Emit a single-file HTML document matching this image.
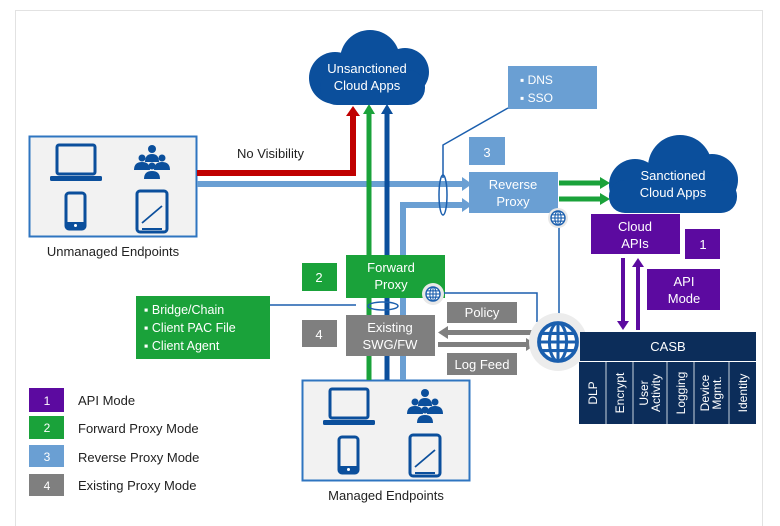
<!DOCTYPE html>
<html><head><meta charset="utf-8"><style>
body{margin:0;background:#fff}
svg{display:block}
text{font-family:"Liberation Sans",Arial,sans-serif}
</style></head><body>
<svg width="780" height="526" viewBox="0 0 780 526" xmlns="http://www.w3.org/2000/svg">
<defs>
<g id="globe"><circle r="10" fill="#fff" stroke="#1b5fae" stroke-width="2"/><ellipse rx="4.5" ry="10" fill="none" stroke="#1b5fae" stroke-width="1.6"/><line x1="0" y1="-10" x2="0" y2="10" stroke="#1b5fae" stroke-width="1.6"/><line x1="-10" y1="0" x2="10" y2="0" stroke="#1b5fae" stroke-width="1.6"/><line x1="-9" y1="-4.5" x2="9" y2="-4.5" stroke="#1b5fae" stroke-width="1.6"/><line x1="-9" y1="4.5" x2="9" y2="4.5" stroke="#1b5fae" stroke-width="1.6"/></g>
<g id="devices">
<rect x="28" y="9" width="38" height="29" rx="2" fill="none" stroke="#0b4f9c" stroke-width="3"/>
<rect x="21" y="40" width="52" height="5" rx="1.5" fill="#0b4f9c"/>
<g fill="#0b4f9c"><circle cx="123" cy="13" r="4"/><path d="M116 26 q0-8 7-8 q7 0 7 8z"/><circle cx="113" cy="22" r="3.5"/><path d="M105 34 q0-8 8-8 q8 0 8 8z"/><circle cx="133" cy="22" r="3.5"/><path d="M125 34 q0-8 8-8 q8 0 8 8z"/><circle cx="123" cy="30" r="3.5"/><path d="M115 43 q0-8 8-8 q8 0 8 8z"/></g>
<rect x="37" y="57" width="19" height="36" rx="3" fill="none" stroke="#0b4f9c" stroke-width="3"/><rect x="37" y="86" width="19" height="7" fill="#0b4f9c"/><circle cx="46.5" cy="89.5" r="1.5" fill="#fff"/>
<rect x="108" y="55" width="30" height="41" rx="3" fill="none" stroke="#0b4f9c" stroke-width="3"/><line x1="113" y1="87" x2="133" y2="70" stroke="#0b4f9c" stroke-width="1.8"/><line x1="113" y1="93" x2="133" y2="93" stroke="#0b4f9c" stroke-width="2"/>
</g>
</defs>
<rect x="15.5" y="10.5" width="747" height="520" fill="#fff" stroke="#e2e2e2"/>

<!-- Unmanaged -->
<rect x="29.5" y="136.5" width="167" height="100" fill="#f2f2f2" stroke="#2f75c0" stroke-width="2"/>
<use href="#devices" x="29" y="136"/>
<text x="113" y="256" font-size="13" text-anchor="middle" fill="#222">Unmanaged Endpoints</text>

<!-- Managed -->
<rect x="302.5" y="380.5" width="167" height="100" fill="#f2f2f2" stroke="#2f75c0" stroke-width="2"/>
<use href="#devices" x="302" y="380"/>
<text x="386" y="500" font-size="13" text-anchor="middle" fill="#222">Managed Endpoints</text>

<!-- Lines -->
<path d="M197 173 H353 V115" fill="none" stroke="#c00000" stroke-width="6"/>
<polygon points="346,116 360,116 353,106" fill="#c00000"/>
<text x="237" y="158" font-size="13" fill="#222">No Visibility</text>
<path d="M197 184 H462" fill="none" stroke="#6a9fd3" stroke-width="6"/>
<polygon points="462,177 472,184 462,191" fill="#6a9fd3"/>
<path d="M403 380 V205 H462" fill="none" stroke="#6a9fd3" stroke-width="6"/>
<polygon points="462,198 472,205 462,212" fill="#6a9fd3"/>
<path d="M369 380 V113" stroke="#1aa23a" stroke-width="5"/>
<polygon points="363,114 375,114 369,104" fill="#1aa23a"/>
<path d="M387 380 V113" stroke="#0b4f9c" stroke-width="5"/>
<polygon points="381,114 393,114 387,104" fill="#0b4f9c"/>

<!-- Unsanctioned cloud -->
<g fill="#0b4f9c"><circle cx="335" cy="78" r="26"/><circle cx="370" cy="60" r="30"/><circle cx="405" cy="72" r="24"/><rect x="320" y="70" width="105" height="35" rx="17"/></g>
<text x="367" y="73" font-size="13" fill="#fff" text-anchor="middle">Unsanctioned</text>
<text x="367" y="90" font-size="13" fill="#fff" text-anchor="middle">Cloud Apps</text>

<!-- Sanctioned cloud -->
<g fill="#0b4f9c"><circle cx="635" cy="185" r="26"/><circle cx="680" cy="167" r="32"/><circle cx="712" cy="180" r="26"/><rect x="609" y="180" width="128" height="33" rx="16"/></g>
<text x="673" y="180" font-size="13" fill="#fff" text-anchor="middle">Sanctioned</text>
<text x="673" y="197" font-size="13" fill="#fff" text-anchor="middle">Cloud Apps</text>

<!-- DNS box + line -->
<rect x="508" y="66" width="89" height="43" fill="#6a9fd3"/>
<text x="520" y="84" font-size="12" fill="#fff">▪ DNS</text>
<text x="520" y="102" font-size="12" fill="#fff">▪ SSO</text>
<path d="M508 108 L443 145 V178" fill="none" stroke="#1b5fae" stroke-width="1.5"/>
<ellipse cx="443" cy="195" rx="4" ry="20" fill="none" stroke="#1b5fae" stroke-width="1.5"/>

<!-- Reverse proxy -->
<rect x="469" y="137" width="36" height="28" fill="#6a9fd3"/><text x="487" y="157" font-size="13" fill="#fff" text-anchor="middle">3</text>
<rect x="469" y="172" width="89" height="41" fill="#6a9fd3"/>
<text x="513" y="189" font-size="13" fill="#fff" text-anchor="middle">Reverse</text>
<text x="513" y="206" font-size="13" fill="#fff" text-anchor="middle">Proxy</text>
<path d="M559 183 H600 M559 199 H600" stroke="#1aa23a" stroke-width="5"/>
<polygon points="600,177 610,183 600,189" fill="#1aa23a"/><polygon points="600,193 610,199 600,205" fill="#1aa23a"/>
<line x1="559" y1="225" x2="559" y2="320" stroke="#1b5fae" stroke-width="1.5"/>
<circle cx="558" cy="218" r="10" fill="#e8e8e8"/><use href="#globe" transform="translate(558 218) scale(0.7)"/>

<!-- Forward proxy -->
<rect x="302" y="263" width="35" height="28" fill="#1aa23a"/><text x="319" y="282" font-size="13" fill="#fff" text-anchor="middle">2</text>
<rect x="346" y="255" width="99" height="43" fill="#1aa23a"/>
<text x="391" y="272" font-size="13" fill="#fff" text-anchor="middle">Forward</text>
<text x="391" y="289" font-size="13" fill="#fff" text-anchor="middle">Proxy</text>
<path d="M443 293 H537 V322" fill="none" stroke="#1b5fae" stroke-width="1.5"/>
<circle cx="433" cy="294" r="11" fill="#e8e8e8"/><use href="#globe" transform="translate(433 294) scale(0.7)"/>

<!-- Bridge box -->
<rect x="136" y="296" width="134" height="63" fill="#1aa23a"/>
<text x="144" y="314" font-size="12.5" fill="#fff">▪  Bridge/Chain</text>
<text x="144" y="332" font-size="12.5" fill="#fff">▪  Client PAC File</text>
<text x="144" y="350" font-size="12.5" fill="#fff">▪  Client Agent</text>
<line x1="270" y1="305" x2="356" y2="305" stroke="#1b5fae" stroke-width="1.5"/>
<ellipse cx="383" cy="306" rx="15" ry="4" fill="none" stroke="#1b5fae" stroke-width="1.5"/>

<!-- Existing -->
<rect x="302" y="320" width="35" height="27" fill="#7f7f7f"/><text x="319" y="339" font-size="13" fill="#fff" text-anchor="middle">4</text>
<rect x="346" y="315" width="89" height="41" fill="#7f7f7f"/>
<text x="390" y="332" font-size="13" fill="#fff" text-anchor="middle">Existing</text>
<text x="390" y="349" font-size="13" fill="#fff" text-anchor="middle">SWG/FW</text>
<rect x="447" y="302" width="70" height="21" fill="#7f7f7f"/><text x="482" y="317" font-size="13" fill="#fff" text-anchor="middle">Policy</text>
<rect x="447" y="353" width="70" height="22" fill="#7f7f7f"/><text x="482" y="369" font-size="13" fill="#fff" text-anchor="middle">Log Feed</text>
<rect x="447" y="330" width="88" height="5" fill="#7f7f7f"/><polygon points="448,326 438,332.5 448,339" fill="#7f7f7f"/>
<rect x="438" y="342" width="88" height="5" fill="#7f7f7f"/><polygon points="526,338 536,344.5 526,351" fill="#7f7f7f"/>

<!-- Big globe -->
<circle cx="558" cy="342" r="29" fill="#ececec"/>
<use href="#globe" transform="translate(558 342) scale(1.9)"/>

<!-- API -->
<rect x="591" y="214" width="89" height="40" fill="#5c0aa0"/>
<text x="635" y="231" font-size="13" fill="#fff" text-anchor="middle">Cloud</text>
<text x="635" y="248" font-size="13" fill="#fff" text-anchor="middle">APIs</text>
<rect x="685" y="229" width="35" height="30" fill="#5c0aa0"/><text x="703" y="249" font-size="13" fill="#fff" text-anchor="middle">1</text>
<rect x="647" y="269" width="73" height="41" fill="#5c0aa0"/>
<text x="684" y="286" font-size="13" fill="#fff" text-anchor="middle">API</text>
<text x="684" y="303" font-size="13" fill="#fff" text-anchor="middle">Mode</text>
<line x1="623" y1="258" x2="623" y2="322" stroke="#5c0aa0" stroke-width="4"/><polygon points="617,321 629,321 623,330" fill="#5c0aa0"/>
<line x1="638" y1="267" x2="638" y2="330" stroke="#5c0aa0" stroke-width="4"/><polygon points="632,267 644,267 638,258" fill="#5c0aa0"/>

<!-- CASB -->
<rect x="580" y="332" width="176" height="29" fill="#0c2d5a"/>
<text x="668" y="351" font-size="13" fill="#fff" text-anchor="middle">CASB</text>
<rect x="579" y="362" width="177" height="62" fill="#0c2d5a"/>
<g stroke="#c9d2de" stroke-width="1"><line x1="606" y1="362" x2="606" y2="424"/><line x1="633" y1="362" x2="633" y2="424"/><line x1="667" y1="362" x2="667" y2="424"/><line x1="694" y1="362" x2="694" y2="424"/><line x1="729" y1="362" x2="729" y2="424"/></g>
<g font-size="12" fill="#fff">
<text transform="translate(597 393) rotate(-90)" text-anchor="middle">DLP</text>
<text transform="translate(624 393) rotate(-90)" text-anchor="middle">Encrypt</text>
<text transform="translate(648 393) rotate(-90)" text-anchor="middle">User</text>
<text transform="translate(660 393) rotate(-90)" text-anchor="middle">Activity</text>
<text transform="translate(685 393) rotate(-90)" text-anchor="middle">Logging</text>
<text transform="translate(709 393) rotate(-90)" text-anchor="middle">Device</text>
<text transform="translate(721 393) rotate(-90)" text-anchor="middle">Mgmt.</text>
<text transform="translate(747 393) rotate(-90)" text-anchor="middle">Identity</text>
</g>

<!-- Legend -->
<rect x="29" y="388" width="35" height="24" fill="#5c0aa0"/><text x="47" y="405" font-size="12" fill="#fff" text-anchor="middle">1</text>
<rect x="29" y="416" width="35" height="23" fill="#1aa23a"/><text x="47" y="432" font-size="12" fill="#fff" text-anchor="middle">2</text>
<rect x="29" y="445" width="35" height="22" fill="#6a9fd3"/><text x="47" y="461" font-size="12" fill="#fff" text-anchor="middle">3</text>
<rect x="29" y="474" width="35" height="22" fill="#7f7f7f"/><text x="47" y="490" font-size="12" fill="#fff" text-anchor="middle">4</text>
<g font-size="13" fill="#222">
<text x="78" y="405">API Mode</text>
<text x="78" y="433">Forward Proxy Mode</text>
<text x="78" y="462">Reverse Proxy Mode</text>
<text x="78" y="490">Existing Proxy Mode</text>
</g>
</svg>
</body></html>
